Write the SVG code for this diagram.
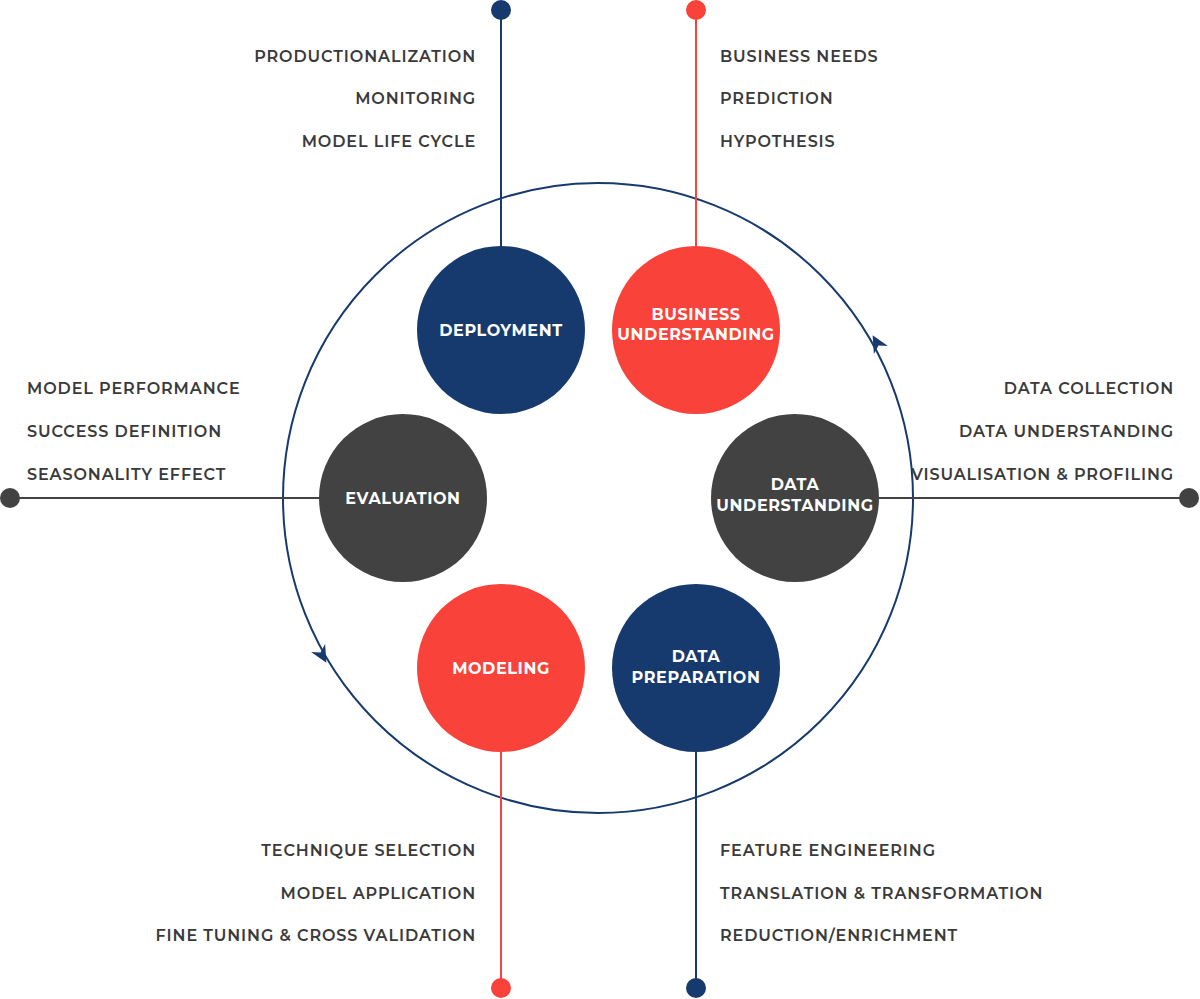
<svg xmlns="http://www.w3.org/2000/svg" width="1200" height="999" viewBox="0 0 1200 999">
<style>
.t{font-family:"Montserrat","Lato","Liberation Sans",sans-serif;font-size:16px;font-weight:600;fill:#3a3a3a;letter-spacing:0.9px}
.r{text-anchor:end}
.n{font-family:"Montserrat","Lato","Liberation Sans",sans-serif;font-size:16px;font-weight:700;fill:#fff;text-anchor:middle;letter-spacing:0.6px}
.navy{fill:#173a6e}.red{fill:#f9423a}.gray{fill:#424242}
</style>
<defs>
<path id="ah" d="M9,0 L-8,-8 L-3,0 L-8,8 Z" fill="#173a6e"/>
</defs>
<rect width="1200" height="999" fill="#fff"/>
<g id="connectors" stroke-width="2" fill="none">
<circle cx="598" cy="498" r="315" stroke="#173a6e"/>
<line x1="501" y1="10" x2="501" y2="250" stroke="#173a6e"/>
<line x1="696" y1="10" x2="696" y2="250" stroke="#f9423a"/>
<line x1="501" y1="748" x2="501" y2="988" stroke="#f9423a"/>
<line x1="696" y1="748" x2="696" y2="988" stroke="#173a6e"/>
<line x1="10" y1="498" x2="322" y2="498" stroke="#424242"/>
<line x1="876" y1="498" x2="1189" y2="498" stroke="#424242"/>
<use href="#ah" transform="translate(877,343) rotate(-119)"/>
<use href="#ah" transform="translate(322,655) rotate(61)"/>
<circle cx="501" cy="10" r="10" class="navy" stroke="none"/>
<circle cx="696" cy="10" r="10" class="red" stroke="none"/>
<circle cx="501" cy="988" r="10" class="red" stroke="none"/>
<circle cx="696" cy="988" r="10" class="navy" stroke="none"/>
<circle cx="10" cy="498" r="10" class="gray" stroke="none"/>
<circle cx="1189" cy="498" r="10" class="gray" stroke="none"/>
</g>
<g id="deployment"><circle cx="501" cy="330" r="84" class="navy"/><text class="n" x="501" y="336">DEPLOYMENT</text></g>
<g id="business"><circle cx="696" cy="330" r="84" class="red"/><text class="n" x="696" y="320">BUSINESS</text><text class="n" x="696" y="340">UNDERSTANDING</text></g>
<g id="dataund"><circle cx="795" cy="498" r="84" class="gray"/><text class="n" x="795" y="490">DATA</text><text class="n" x="795" y="511">UNDERSTANDING</text></g>
<g id="dataprep"><circle cx="696" cy="668" r="84" class="navy"/><text class="n" x="696" y="662">DATA</text><text class="n" x="696" y="683">PREPARATION</text></g>
<g id="modeling"><circle cx="501" cy="668" r="84" class="red"/><text class="n" x="501" y="674">MODELING</text></g>
<g id="evaluation"><circle cx="403" cy="498" r="84" class="gray"/><text class="n" x="403" y="504">EVALUATION</text></g>
<g id="labels">
<text class="t r" x="476" y="62">PRODUCTIONALIZATION</text>
<text class="t r" x="476" y="104">MONITORING</text>
<text class="t r" x="476" y="147">MODEL LIFE CYCLE</text>
<text class="t" x="720" y="62">BUSINESS NEEDS</text>
<text class="t" x="720" y="104">PREDICTION</text>
<text class="t" x="720" y="147">HYPOTHESIS</text>
<text class="t" x="27" y="394">MODEL PERFORMANCE</text>
<text class="t" x="27" y="437">SUCCESS DEFINITION</text>
<text class="t" x="27" y="480">SEASONALITY EFFECT</text>
<text class="t r" x="1174" y="394">DATA COLLECTION</text>
<text class="t r" x="1174" y="437">DATA UNDERSTANDING</text>
<text class="t r" x="1174" y="480">VISUALISATION &amp; PROFILING</text>
<text class="t r" x="476" y="856">TECHNIQUE SELECTION</text>
<text class="t r" x="476" y="899">MODEL APPLICATION</text>
<text class="t r" x="476" y="941">FINE TUNING &amp; CROSS VALIDATION</text>
<text class="t" x="720" y="856">FEATURE ENGINEERING</text>
<text class="t" x="720" y="899">TRANSLATION &amp; TRANSFORMATION</text>
<text class="t" x="720" y="941">REDUCTION/ENRICHMENT</text>
</g>
</svg>
